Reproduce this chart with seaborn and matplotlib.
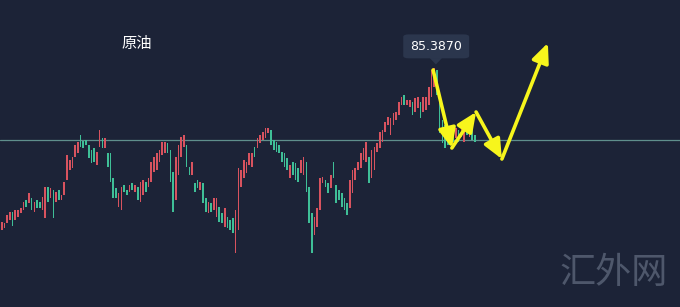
import matplotlib
matplotlib.use("Agg")
import matplotlib.pyplot as plt
import seaborn as sns
import numpy as np
import pandas as pd
from matplotlib.patches import FancyBboxPatch, Polygon

# ---------------- data (price values) ----------------
opens = [69.19, 69.39, 69.89, 70.19, 70.99, 70.19, 70.49, 70.89, 71.19, 72.19,
         71.89, 72.39, 70.99, 72.19, 71.99, 71.19, 70.39, 73.49, 72.39, 73.19,
         71.99, 73.19, 72.19, 72.69, 74.19, 75.19, 75.39, 76.49, 76.89, 78.69,
         78.09, 78.19, 77.69, 77.19, 77.39, 75.69, 77.49, 78.39, 77.39, 76.89,
         76.89, 74.39, 73.39, 71.49, 71.19, 73.69, 73.19, 72.99, 73.89, 72.99,
         73.49, 71.99, 72.69, 73.99, 73.49, 73.99, 74.99, 75.19, 75.99, 76.69,
         76.89,
         77.89, 77.19, 74.99, 72.19, 74.69, 76.49, 77.49, 77.69, 75.49, 74.69,
         73.89, 74.19, 73.19, 73.89, 72.39, 70.89, 71.89, 71.19, 70.49, 71.49,
         70.89, 69.49, 70.49, 70.19, 70.39, 66.89, 69.19, 73.49, 74.39, 74.89,
         75.69,
         75.49, 77.49, 77.39, 77.89, 78.19, 78.39, 78.89, 79.19, 78.19,
         77.99, 77.69, 76.99, 76.89, 76.39, 74.39, 75.99, 75.89, 75.39, 74.89,
         74.69, 75.99, 73.49, 70.89, 68.69, 69.49, 71.19, 73.89, 74.19,
         73.89, 73.39, 75.99, 73.69,
         73.19, 72.89, 72.39, 71.89, 71.39, 72.89, 74.19, 75.19,
         75.39, 76.19, 75.99, 76.49, 74.39, 75.19, 76.99, 77.39, 77.99, 78.99,
         79.69, 78.69, 79.69, 80.19, 80.69, 81.69, 82.69, 81.69,
         81.49, 81.99, 80.99, 81.39, 81.99, 80.99,
         81.19, 81.69, 82.49, 83.49, 85.19, 82.89, 80.19, 79.69, 78.99, 77.89,
         78.99, 78.39, 79.19, 78.49, 77.99, 79.69, 78.49, 79.39, 78.69]
closes = [69.99, 69.89, 70.69, 70.99, 69.59, 71.19, 71.19, 71.39, 71.99, 71.49,
          72.89, 71.19, 71.99, 71.39, 71.39, 72.49, 73.49, 71.99, 73.39, 70.39,
          72.99, 72.19, 72.69, 73.99, 76.69, 76.19, 76.49, 77.69, 77.99, 77.49,
          77.39, 77.69, 76.39, 75.89, 75.99, 76.99, 79.19, 77.39, 78.39, 75.49,
          73.99, 72.39, 72.39, 72.89, 73.49, 72.99, 72.69, 73.69, 73.19, 73.69,
          72.19, 73.99, 74.19, 72.99, 74.39, 75.99, 76.49, 76.89, 77.19, 77.99,
          77.99,
          76.89, 73.99, 70.99, 76.49, 77.69, 78.49, 78.69, 75.49, 74.69, 75.99,
          72.99, 73.39, 73.99, 71.89, 70.99, 71.99, 70.99, 72.39, 72.39, 69.99,
          69.89, 71.39, 69.39, 69.19, 68.89, 71.19, 75.39, 75.19, 76.19, 75.99,
          76.89,
          76.89, 76.49, 78.39, 78.69, 78.99, 79.39, 79.39, 77.69, 77.19,
          76.99, 76.89, 75.99, 75.49, 75.19, 75.69, 74.69, 74.19, 73.99, 76.19,
          76.49, 72.99, 69.89, 66.89, 70.49, 71.39, 74.39, 74.49, 73.49,
          72.89, 74.69, 74.39, 71.89,
          72.19, 71.49, 71.19, 70.69, 74.19, 75.19, 75.39, 75.99,
          76.89, 77.39, 77.99, 73.89, 77.19, 77.49, 77.89, 78.99, 79.19, 79.99,
          80.49, 80.39, 80.89, 80.99, 81.99, 82.49, 81.69, 82.19,
          82.19, 80.69, 82.39, 82.49, 80.39, 82.49,
          82.49, 83.49, 85.19, 85.39, 82.69, 78.89, 77.89, 77.39, 77.69, 78.69,
          77.99, 79.39, 77.99, 79.69, 79.49, 78.69, 79.39, 78.19, 77.99]

ref_price = 78.19          # horizontal reference level
peak_label = "85.3870"
title = "原油"
watermark = "汇外网"
# projected path (candle index, price) drawn as yellow arrows
path_idx = [158.6, 165.5, 174.4, 183.9, 200.8]
path_px = [85.19, 77.39, 80.99, 76.29, 87.89]

# ---------------- styling ----------------
BG = "#1c2337"
RED = "#d8535f"
GREEN = "#3fbf97"
YEL = "#f7f51c"

sns.set_theme(style="dark")
plt.rcParams["font.family"] = ["Noto Sans CJK SC", "DejaVu Sans"]

df = pd.DataFrame({"open": opens, "close": closes})
df["idx"] = np.arange(len(df))
df["lo"] = df[["open", "close"]].min(axis=1)
df["hi"] = df[["open", "close"]].max(axis=1)
df["up"] = df["close"] >= df["open"]

fig = plt.figure(figsize=(6.8, 3.07), dpi=100)
fig.patch.set_facecolor(BG)
ax = fig.add_axes([0, 0, 1, 1])
ax.set_facecolor(BG)

sp = 2.72  # px per candle
x0 = -1.7 / sp
ax.set_xlim(x0, x0 + 680 / sp)
ax.set_ylim(61.49, 92.19)

cols = [RED if u else GREEN for u in df["up"]]
ax.bar(df["idx"], df["hi"] - df["lo"], bottom=df["lo"], width=0.6,
       color=cols, linewidth=0, zorder=2)

sns.lineplot(x=[x0, x0 + 680 / sp], y=[ref_price, ref_price], ax=ax,
             color="#5f8f8c", linewidth=0.9, zorder=1)

# arrows
for i in range(len(path_idx) - 1):
    ax.annotate("", xy=(path_idx[i + 1], path_px[i + 1]),
                xytext=(path_idx[i], path_px[i]),
                arrowprops=dict(arrowstyle="-|>,head_length=0.9,head_width=0.4",
                                color=YEL, lw=2.6, shrinkA=0, shrinkB=0,
                                mutation_scale=13),
                zorder=5)

# tooltip
bx = FancyBboxPatch((0.593, 0.81), 0.097, 0.078,
                    boxstyle="round,pad=0,rounding_size=0.008",
                    transform=fig.transFigure, facecolor="#2b364d",
                    edgecolor="none", zorder=6)
fig.patches.append(bx)
tri = Polygon([[0.632, 0.811], [0.650, 0.811], [0.641, 0.790]], closed=True,
              transform=fig.transFigure, facecolor="#2b364d", edgecolor="none",
              zorder=6)
fig.patches.append(tri)
fig.text(0.6415, 0.849, peak_label, color="white", fontsize=9,
         ha="center", va="center", family="DejaVu Sans", zorder=10)

fig.text(0.201, 0.859, title, color="white", fontsize=11, ha="center",
         va="center", zorder=10)
fig.text(0.903, 0.112, watermark, color="#4e576b", fontsize=26,
         ha="center", va="center", zorder=10)

ax.set_xticks([])
ax.set_yticks([])
for s in ax.spines.values():
    s.set_visible(False)
ax.grid(False)
if ax.get_legend():
    ax.get_legend().remove()

fig.savefig("out.png", dpi=100, facecolor=BG)
